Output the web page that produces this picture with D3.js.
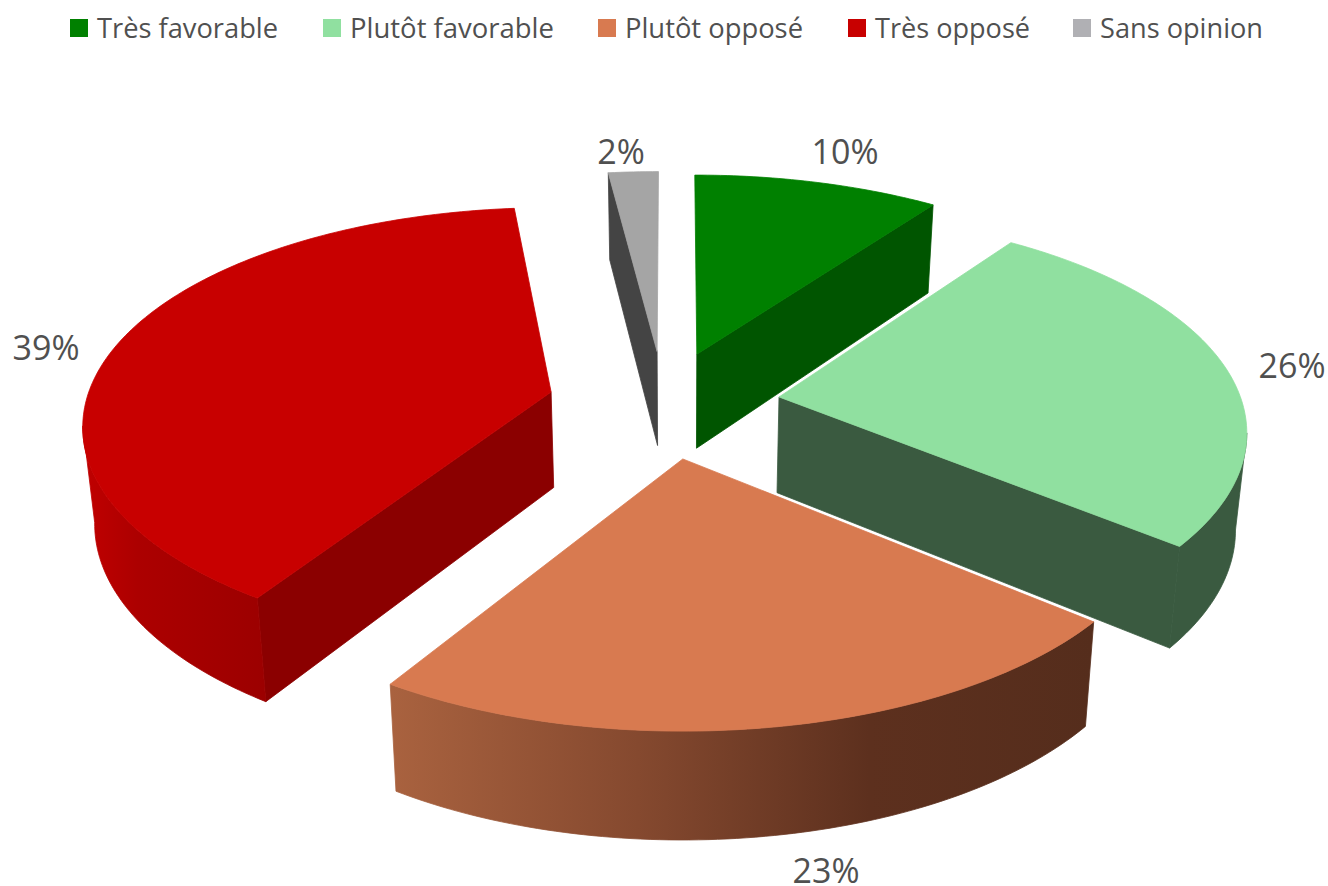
<!DOCTYPE html>
<html>
<head>
<meta charset="utf-8">
<script src="https://cdn.jsdelivr.net/npm/d3@7"></script>
<style>
    html, body { margin: 0; padding: 0; background: #fff; }
    text { font-family: "Open Sans", sans-serif; fill: #505050; }
</style>
</head>
<body>
<script>
var categories = ["Très favorable", "Plutôt favorable", "Plutôt opposé", "Très opposé", "Sans opinion"];
var shares = [10, 26, 23, 39, 2];

var topColors = ["#008000", "#90e0a0", "#d87a50", "#c80000", "#a5a5a5"];
var cutColors = ["#005500", "#3a5a40", "#552d1c", "#8b0000", "#444444"];
var legendColors = ["#008000", "#90e0a0", "#d87a50", "#c80000", "#b0b0b4"];

// how far each slice is pulled out, in pie radii (x right, y back)
var explodeX = [0.036, 0.212, 0.006, -0.276, -0.049];
var explodeY = [0.212, 0.014, -0.273, 0.037, 0.224];

// the picture's 3D camera bends each slice a little differently
var slicePerspective = [0.2, 0.165, 0.2, 0.16, 0.2];
var sliceRadius = [0.995, 0.988, 1.008, 0.99, 1];
var startTrim = [-0.3, -1.2, 1, 1, 0];   // degrees
var endTrim = [0.2, -0.7, -1.4, 1.9, 0.2];

// legend and label layout, same order as the categories
var legendX = [70, 323, 598, 848, 1073];
var legendWidth = [181, 204, 178, 155, 163];
var labelX = [845, 1292, 826, 46, 621];
var labelY = [164, 378, 883, 360, 164];

var width = 1328, height = 886;
var vanishX = 680, wallShrink = 0.98;
var toRad = Math.PI / 180;

var groundX = d3.scaleLinear().domain([-1, 1]).range([213, 1147]);
var groundY = d3.scaleLinear().domain([-1, 1]).range([616, 184]);
var wallDepth = d3.scaleLinear().domain([176, 684]).range([87, 107]);
var color = d3.scaleOrdinal().domain(categories).range(topColors);
var cutColor = d3.scaleOrdinal().domain(categories).range(cutColors);
var legendColor = d3.scaleOrdinal().domain(categories).range(legendColors);

var svg = d3.select("body").append("svg")
    .attr("width", width)
    .attr("height", height)
    .style("display", "block");

var line = d3.line();
var slices = d3.pie().sort(null)(shares);

function topPoint(i, angle) {
    var s = sliceRadius[i] / (1 + slicePerspective[i] * Math.cos(angle));
    return [
        groundX(explodeX[i] + Math.sin(angle) * s),
        groundY(explodeY[i] + Math.cos(angle) * s)
    ];
}

function apexPoint(i) {
    return [groundX(explodeX[i]), groundY(explodeY[i])];
}

function bottomPoint(p) {
    return [vanishX + (p[0] - vanishX) * wallShrink, p[1] + wallDepth(p[1])];
}

function arcPoints(i, d) {
    var a0 = d.startAngle + startTrim[i] * toRad;
    var a1 = d.endAngle + endTrim[i] * toRad;
    var n = Math.max(8, Math.round((a1 - a0) * 60));
    return d3.range(n + 1).map(function(k) {
        return topPoint(i, a0 + (a1 - a0) * k / n);
    });
}

function wall(a, b) {
    return [a, b, bottomPoint(b), bottomPoint(a)];
}

// outer wall: the stretch of arc that runs right to left on screen faces the viewer
function frontArc(arc) {
    var pts = arc.filter(function(p, k) {
        return (k < arc.length - 1 && arc[k + 1][0] < p[0]) || (k > 0 && p[0] < arc[k - 1][0]);
    });
    return pts.concat(pts.map(bottomPoint).reverse());
}

var defs = svg.append("defs");

function addGradient(id, x1, x2, stops) {
    var g = defs.append("linearGradient")
        .attr("id", id)
        .attr("gradientUnits", "userSpaceOnUse")
        .attr("x1", x1).attr("x2", x2).attr("y1", 0).attr("y2", 0);
    stops.forEach(function(s) {
        g.append("stop").attr("offset", s[0]).attr("stop-color", s[1]);
    });
    return "url(#" + id + ")";
}

var arcFills = [
    "#005500",
    "#3a5a40",
    addGradient("wallOrange", 392, 1094, [[0, "#a9623f"], [0.35, "#85492f"], [0.68, "#5d301e"], [1, "#552d1c"]]),
    addGradient("wallRed", 84, 264, [[0, "#c00000"], [0.3, "#ac0000"], [1, "#9c0000"]]),
    "#444444"
];

// back to front
var drawOrder = [4, 0, 3, 1, 2];

drawOrder.forEach(function(i) {
    var d = slices[i];
    var arc = arcPoints(i, d);
    var apex = apexPoint(i);
    var first = arc[0], last = arc[arc.length - 1];
    var faces = [];

    if (first[0] < apex[0] - 8) {
        faces.push({ points: wall(apex, first), fill: cutColor(categories[i]) });
    }
    if (apex[0] < last[0] - 8) {
        faces.push({ points: wall(last, apex), fill: cutColor(categories[i]) });
    }
    var outer = frontArc(arc);
    if (outer.length > 2) {
        faces.push({ points: outer, fill: arcFills[i] });
    }
    faces.push({ points: [apex].concat(arc), fill: color(categories[i]) });

    var g = svg.append("g").attr("class", "slice");

    // thin white halo that keeps neighbouring slices apart
    g.selectAll("path.halo").data(faces).enter().append("path")
        .attr("class", "halo")
        .attr("d", function(f) { return line(f.points) + "Z"; })
        .attr("fill", "#fff")
        .attr("stroke", "#fff")
        .attr("stroke-width", 2)
        .attr("stroke-linejoin", "round");

    g.selectAll("path.face").data(faces).enter().append("path")
        .attr("class", "face")
        .attr("d", function(f) { return line(f.points) + "Z"; })
        .attr("fill", function(f) { return f.fill; })
        .attr("stroke", function(f) { return f.fill; })
        .attr("stroke-width", 0.8);
});

// value labels
svg.selectAll("text.value").data(shares).enter().append("text")
    .attr("class", "value")
    .attr("x", function(d, i) { return labelX[i]; })
    .attr("y", function(d, i) { return labelY[i]; })
    .attr("text-anchor", "middle")
    .attr("font-size", 34)
    .text(function(d) { return d + "%"; });

// legend
var legend = svg.selectAll("g.legend").data(categories).enter().append("g")
    .attr("class", "legend")
    .attr("transform", function(d, i) { return "translate(" + legendX[i] + ",0)"; });

legend.append("rect")
    .attr("y", 19)
    .attr("width", 18)
    .attr("height", 18)
    .attr("fill", function(d) { return legendColor(d); });

legend.append("text")
    .attr("x", 27)
    .attr("y", 38)
    .attr("font-size", 27)
    .attr("textLength", function(d, i) { return legendWidth[i]; })
    .attr("lengthAdjust", "spacingAndGlyphs")
    .text(function(d) { return d; });
</script>
</body>
</html>
